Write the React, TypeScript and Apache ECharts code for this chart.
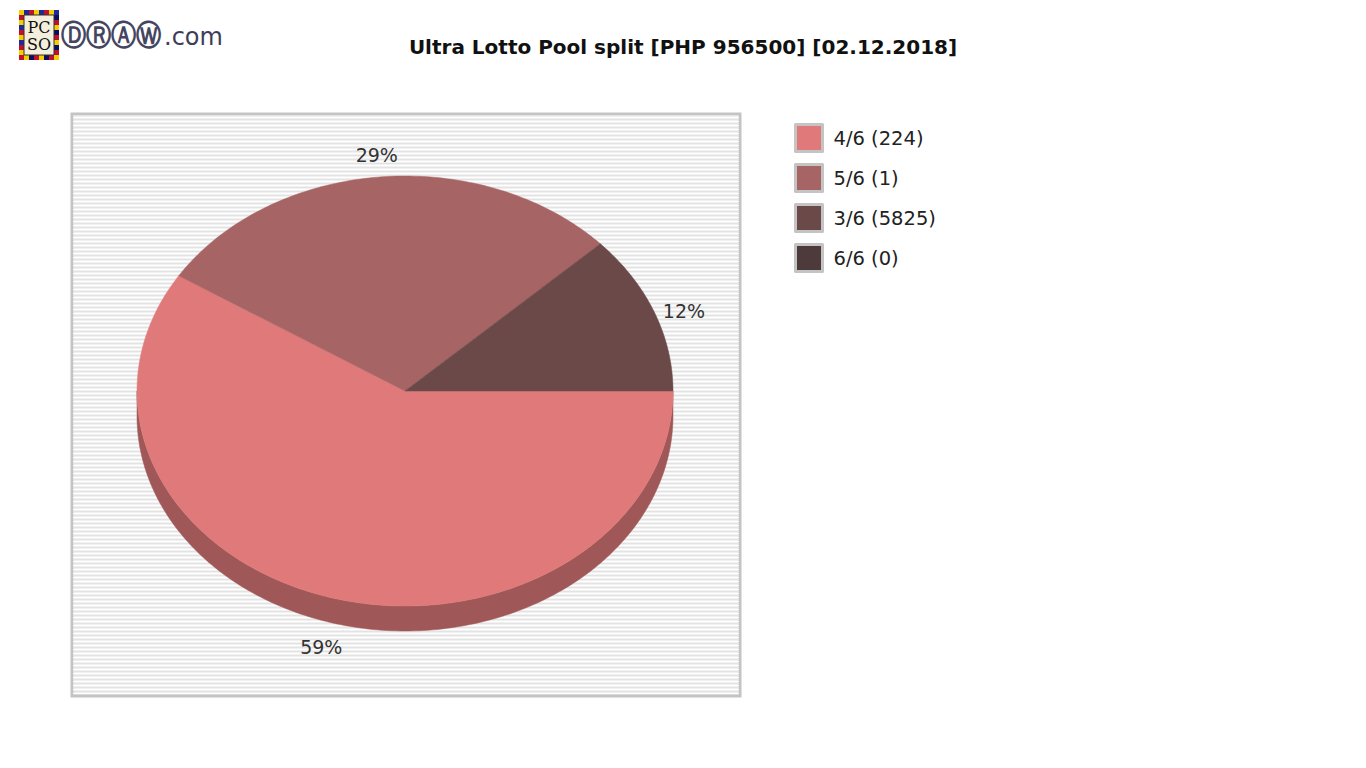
import { useEffect, useRef } from "react";
import * as echarts from "echarts";

// pool split data
const categories = ["4/6", "5/6", "3/6", "6/6"];
const winners = [224, 1, 5825, 0];
const poolShares = [59, 29, 12, 0];
const sliceColors = ["#e07a7a", "#a66464", "#6b4949", "#4d3b3b"];
const sideColors = ["#a05757", "#7c4848", "#503636", "#392c2c"];

const TITLE = "Ultra Lotto Pool split [PHP 956500] [02.12.2018]";
const FONT = '"DejaVu Sans", Verdana, sans-serif';

// 3d pie geometry
const CX = 405;
const CY = 391;
const RX = 268;
const RY = 215;
const DEPTH = 25;

const total = poolShares.reduce((s, v) => s + v, 0);
let cum = 0;
const sliceData = poolShares.map((v, i) => {
  const a0 = (cum / total) * Math.PI * 2;
  cum += v;
  const a1 = (cum / total) * Math.PI * 2;
  return [i, a0, a1, v];
});

const arcPoints = (a0: number, a1: number, dy: number) => {
  const pts: number[][] = [];
  const steps = Math.max(2, Math.ceil((a1 - a0) / (Math.PI / 180)));
  for (let k = 0; k <= steps; k++) {
    const t = a0 + ((a1 - a0) * k) / steps;
    pts.push([CX + RX * Math.cos(t), CY + RY * Math.sin(t) + dy]);
  }
  return pts;
};

const buildStripes = () => {
  const out: any[] = [];
  for (let y = 115; y < 695; y += 4) {
    out.push({
      type: "line",
      silent: true,
      shape: { x1: 73, y1: y + 0.5, x2: 739, y2: y + 0.5 },
      style: { stroke: "#e3e3e3", lineWidth: 1 },
    });
    out.push({
      type: "line",
      silent: true,
      shape: { x1: 73, y1: y + 2.5, x2: 739, y2: y + 2.5 },
      style: { stroke: "#ffffff", lineWidth: 1 },
    });
  }
  return out;
};

const buildLogo = () => {
  const tileColors = ["#f2cf00", "#c0102a", "#1c2a9a", "#f2cf00", "#c0102a", "#0c0c60"];
  const out: any[] = [];
  const x0 = 19;
  const y0 = 10;
  const w = 40;
  const h = 50;
  const t = 5;
  let c = 0;
  for (let x = x0; x < x0 + w; x += t) {
    out.push({ type: "rect", shape: { x, y: y0, width: t, height: t }, style: { fill: tileColors[c++ % 6] } });
    out.push({ type: "rect", shape: { x, y: y0 + h - t, width: t, height: t }, style: { fill: tileColors[c++ % 6] } });
  }
  for (let y = y0 + t; y < y0 + h - t; y += t) {
    out.push({ type: "rect", shape: { x: x0, y, width: t, height: t }, style: { fill: tileColors[c++ % 6] } });
    out.push({ type: "rect", shape: { x: x0 + w - t, y, width: t, height: t }, style: { fill: tileColors[c++ % 6] } });
  }
  out.push({
    type: "rect",
    shape: { x: x0 + t, y: y0 + t, width: w - 2 * t, height: h - 2 * t },
    style: { fill: "#f3efdc", stroke: "#333", lineWidth: 1 },
  });
  out.push({
    type: "text",
    x: x0 + w / 2,
    y: y0 + 17,
    style: { text: "PC", fill: "#111", font: '16px "DejaVu Serif", serif', align: "center", verticalAlign: "middle" },
  });
  out.push({
    type: "text",
    x: x0 + w / 2,
    y: y0 + 34,
    style: { text: "SO", fill: "#111", font: '16px "DejaVu Serif", serif', align: "center", verticalAlign: "middle" },
  });
  out.push({
    type: "text",
    x: 61,
    y: 35,
    scaleY: 1.15,
    style: {
      text: "\u24B9\u24C7\u24B6\u24CC",
      fill: "#45455f",
      font: `bold 25px ${FONT}`,
      verticalAlign: "middle",
    },
  });
  out.push({
    type: "text",
    x: 164,
    y: 37,
    style: { text: ".com", fill: "#3d3d58", font: `24px ${FONT}`, verticalAlign: "middle" },
  });
  return out;
};

const App = () => {
  const chartRef = useRef<HTMLDivElement | null>(null);

  useEffect(() => {
    if (!chartRef.current) {
      return;
    }
    const instance = echarts.init(chartRef.current, undefined, {
      renderer: "svg",
    });

    const option: any = {
      animation: false,
      backgroundColor: "#ffffff",
      textStyle: { fontFamily: FONT },
      title: {
        text: TITLE,
        left: "center",
        top: 32,
        textStyle: { fontFamily: FONT, fontSize: 20, fontWeight: "bold", color: "#111" },
      },
      legend: {
        orient: "vertical",
        left: 789,
        top: 118,
        itemWidth: 27,
        itemHeight: 27,
        itemGap: 10,
        icon: "rect",
        selectedMode: false,
        itemStyle: { borderColor: "#c4c4c4", borderWidth: 3 },
        textStyle: {
          fontFamily: FONT,
          fontSize: 19.5,
          color: "#222",
          lineHeight: 27,
          padding: [0, 0, 0, 6],
        },
        data: categories.map((c, i) => `${c} (${winners[i]})`),
      },
      graphic: [
        {
          type: "rect",
          silent: true,
          shape: { x: 72, y: 114, width: 668, height: 582 },
          style: { fill: "#f1f1f1", stroke: "#c4c4c4", lineWidth: 3 },
        },
        ...buildStripes(),
        ...buildLogo(),
      ],
      series: [
        {
          // legend carrier
          type: "pie",
          radius: [0, 0],
          center: [CX, CY],
          silent: true,
          label: { show: false },
          labelLine: { show: false },
          data: categories.map((c, i) => ({
            name: `${c} (${winners[i]})`,
            value: poolShares[i],
            itemStyle: { color: sliceColors[i] },
          })),
        },
        {
          type: "custom",
          coordinateSystem: "none",
          silent: true,
          z: 3,
          data: sliceData,
          renderItem: (params: any, api: any) => {
            const i = api.value(0);
            const lo = Math.max(api.value(1), 0);
            const hi = Math.min(api.value(2), Math.PI);
            if (hi <= lo) {
              return null;
            }
            const top = arcPoints(lo, hi, 0);
            const bottom = arcPoints(lo, hi, DEPTH).reverse();
            return {
              type: "polygon",
              shape: { points: [...top, ...bottom] },
              style: { fill: sideColors[i], stroke: sideColors[i], lineWidth: 0.5 },
            };
          },
        },
        {
          type: "custom",
          coordinateSystem: "none",
          silent: true,
          z: 4,
          data: sliceData,
          renderItem: (params: any, api: any) => {
            const i = api.value(0);
            const a0 = api.value(1);
            const a1 = api.value(2);
            const share = api.value(3);
            if (a1 <= a0) {
              return null;
            }
            const mid = (a0 + a1) / 2;
            const c = Math.cos(mid);
            const s = Math.sin(mid);
            const lx = CX + (RX + 32) * c;
            const ly = CY + (RY + 22) * s + (s > 0 ? DEPTH + 3 : 8 * c * c);
            return {
              type: "group",
              children: [
                {
                  type: "polygon",
                  shape: { points: [[CX, CY], ...arcPoints(a0, a1, 0)] },
                  style: { fill: sliceColors[i], stroke: sliceColors[i], lineWidth: 0.5 },
                },
                {
                  type: "text",
                  x: lx,
                  y: ly,
                  style: {
                    text: `${share}%`,
                    fill: "#333",
                    font: `19px ${FONT}`,
                    align: "center",
                    verticalAlign: "middle",
                  },
                },
              ],
            };
          },
        },
      ],
    };

    instance.setOption(option);

    return () => {
      instance.dispose();
    };
  }, []);

  return (
    <div
      ref={chartRef}
      style={{ position: "fixed", left: 0, top: 0, width: 1366, height: 768, background: "#fff" }}
    />
  );
};

export default App;
